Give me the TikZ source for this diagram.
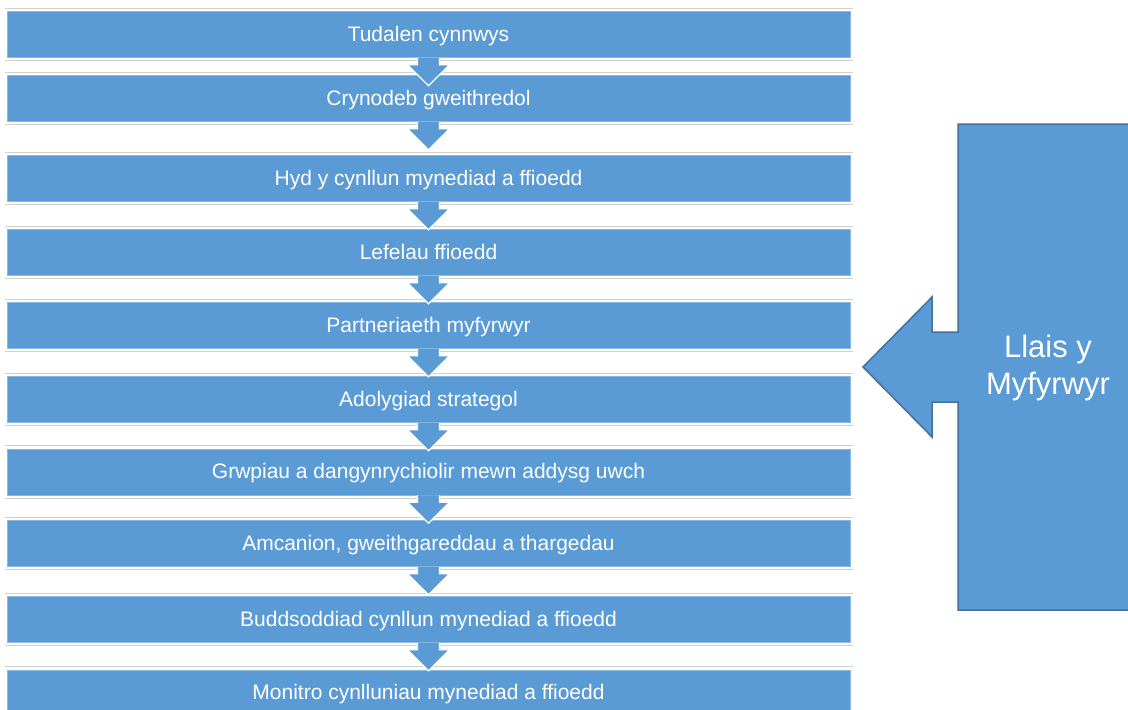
\documentclass[tikz,border=0pt]{standalone}
\usepackage{fontspec}
\setmainfont{Liberation Sans}
\definecolor{boxblue}{HTML}{5B9BD5}
\definecolor{edgeblue}{HTML}{41719C}
\definecolor{shadegray}{HTML}{D0D0D0}
\tikzset{
  stepbox/.style={rectangle, fill=boxblue, draw=boxblue!70!white, line width=0.6pt,
    minimum width=843pt, minimum height=46pt, inner sep=0pt, text=white,
    text height=15pt, text depth=2pt,
    font=\fontsize{21}{25}\selectfont},
  shadeline/.style={draw=shadegray, line width=1.3pt},
  dnarr/.style={fill=boxblue, draw=white, line width=1.2pt, line join=miter},
  bigshape/.style={fill=boxblue, draw=edgeblue, line width=1.5pt, line join=miter},
}
\newcommand{\gaplines}[1]{%
  \draw[shadeline] ([xshift=-2pt,yshift=3pt]#1.north west) -- ([xshift=3pt,yshift=3pt]#1.north east);
  \draw[shadeline] ([xshift=-2pt,yshift=-3pt]#1.south west) -- ([xshift=3pt,yshift=-3pt]#1.south east);
}
\newcommand{\dnarrow}[1]{%
  \fill[boxblue] ([xshift=-11pt]#1.south) -- ++(0,7) -- ++(-10,0) -- ++(21,21) -- ++(21,-21) -- ++(-10,0) -- ++(0,-7) -- cycle;
  \draw[dnarr, fill=none] ([xshift=-11pt]#1.south) -- ++(0,7) -- ++(-10,0) -- ++(21,21) -- ++(21,-21) -- ++(-10,0) -- ++(0,-7);
}
\begin{document}
\begin{tikzpicture}[x=1pt, y=-1pt]
\useasboundingbox (0,0) rectangle (1128,710);
\clip (0,0) rectangle (1128,710);
\fill[white] (0,0) rectangle (1128,710);

\node[stepbox] (b1) at (428.5,34.5) {Tudalen cynnwys};
\node[stepbox] (b2) at (428.5,98.5) {Crynodeb gweithredol};
\node[stepbox] (b3) at (428.5,178.5) {Hyd y cynllun mynediad a ffioedd};
\node[stepbox] (b4) at (428.5,252.5) {Lefelau ffioedd};
\node[stepbox] (b5) at (428.5,325.5) {Partneriaeth myfyrwyr};
\node[stepbox] (b6) at (428.5,399.5) {Adolygiad strategol};
\node[stepbox] (b7) at (428.5,472) {Grwpiau a dangynrychiolir mewn addysg uwch};
\node[stepbox] (b8) at (428.5,543.5) {Amcanion, gweithgareddau a thargedau};
\node[stepbox] (b9) at (428.5,619.5) {Buddsoddiad cynllun mynediad a ffioedd};
\node[stepbox] (b10) at (428.5,693) {Monitro cynlluniau mynediad a ffioedd};

\foreach \n in {b1,b2,b3,b4,b5,b6,b7,b8,b9,b10} {\gaplines{\n}}

\dnarrow{b1}
\dnarrow{b2}
\dnarrow{b3}
\dnarrow{b4}
\dnarrow{b5}
\dnarrow{b6}
\dnarrow{b7}
\dnarrow{b8}
\dnarrow{b9}

\draw[bigshape] (958,124) -- (1140,124) -- (1140,610) -- (958,610) -- (958,402)
  -- (932,402) -- (932,437) -- (863,367) -- (932,297) -- (932,332) -- (958,332) -- cycle;
\node[text=white, align=center, font=\fontsize{31}{37}\selectfont] (voice) at (1048,368) {Llais y\\Myfyrwyr};
\end{tikzpicture}
\end{document}
